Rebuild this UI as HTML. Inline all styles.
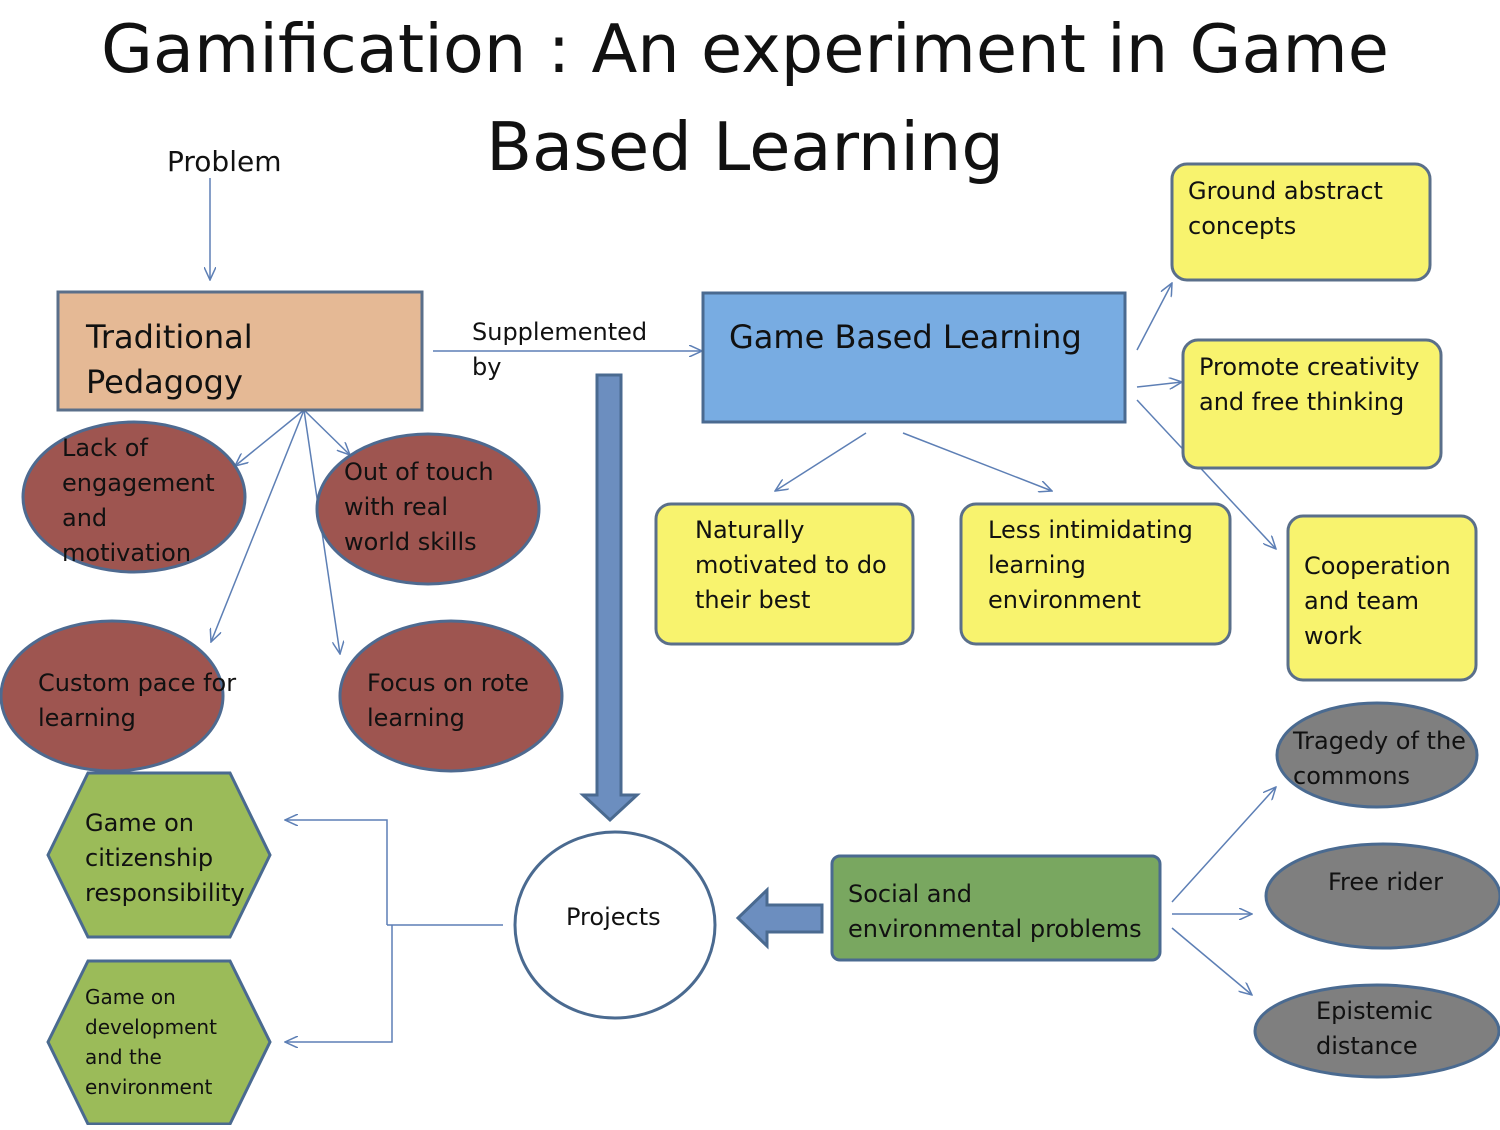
<!DOCTYPE html>
<html><head><meta charset="utf-8"><style>
body{margin:0;background:#fff}
svg text{font-family:"DejaVu Sans","Liberation Sans",sans-serif;fill:#111}
</style></head><body>
<svg width="1500" height="1125" viewBox="0 0 1500 1125" xmlns="http://www.w3.org/2000/svg">
<defs><marker id="a" markerWidth="14" markerHeight="12" refX="13" refY="6" orient="auto" markerUnits="userSpaceOnUse"><path d="M0,0 L13,6 L0,12" fill="none" stroke="#5d7fb5" stroke-width="1.5"/></marker></defs>
<text x="745" y="72" font-size="67" text-anchor="middle">Gamification : An experiment in Game</text>
<text x="745" y="170" font-size="67" text-anchor="middle">Based Learning</text>
<text x="167" y="171" font-size="28">Problem</text>
<g stroke="#5d7fb5" stroke-width="1.5" fill="none" marker-end="url(#a)">
<line x1="210" y1="178" x2="210" y2="280"/>
<line x1="433" y1="351" x2="702" y2="351"/>
<line x1="304" y1="410" x2="235" y2="466"/>
<line x1="304" y1="410" x2="350" y2="455"/>
<line x1="304" y1="410" x2="211" y2="642"/>
<line x1="304" y1="410" x2="340" y2="654"/>
<line x1="1137" y1="350" x2="1172" y2="283"/>
<line x1="1137" y1="387" x2="1182" y2="382"/>
<line x1="1137" y1="400" x2="1276" y2="549"/>
<line x1="866" y1="433" x2="775" y2="491"/>
<line x1="903" y1="433" x2="1052" y2="491"/>
<line x1="1172" y1="902" x2="1276" y2="787"/>
<line x1="1172" y1="914" x2="1252" y2="914"/>
<line x1="1172" y1="928" x2="1252" y2="995"/>
<polyline points="387,925 387,820 285,820"/>
<polyline points="392,925 392,1042 285,1042"/>
</g>
<line x1="503" y1="925" x2="387" y2="925" stroke="#5d7fb5" stroke-width="1.5"/>
<rect x="58" y="292" width="364" height="118" fill="#e5b995" stroke="#5a6f8a" stroke-width="3"/>
<text x="86" y="348" font-size="32">Traditional</text><text x="86" y="393" font-size="32">Pedagogy</text>
<text x="472" y="340" font-size="24">Supplemented</text><text x="472" y="375" font-size="24">by</text>
<rect x="703" y="293" width="422" height="129" fill="#78ace2" stroke="#4a6a90" stroke-width="3"/>
<text x="729" y="348" font-size="32">Game Based Learning</text>
<g fill="#f8f36e" stroke="#5a6f8a" stroke-width="3">
<rect x="1172" y="164" width="258" height="116" rx="15"/>
<rect x="1183" y="340" width="258" height="128" rx="15"/>
<rect x="1288" y="516" width="188" height="164" rx="15"/>
<rect x="656" y="504" width="257" height="140" rx="15"/>
<rect x="961" y="504" width="269" height="140" rx="15"/>
</g>
<g font-size="24">
<text x="1188" y="199">Ground abstract</text><text x="1188" y="234">concepts</text>
<text x="1199" y="375">Promote creativity</text><text x="1199" y="410">and free thinking</text>
<text x="1304" y="574">Cooperation</text><text x="1304" y="609">and team</text><text x="1304" y="644">work</text>
<text x="695" y="538">Naturally</text><text x="695" y="573">motivated to do</text><text x="695" y="608">their best</text>
<text x="988" y="538">Less intimidating</text><text x="988" y="573">learning</text><text x="988" y="608">environment</text>
</g>
<g fill="#9e5550" stroke="#4e6a90" stroke-width="3">
<ellipse cx="134" cy="497" rx="111" ry="75"/>
<ellipse cx="428" cy="509" rx="111" ry="75"/>
<ellipse cx="112" cy="696" rx="111" ry="75"/>
<ellipse cx="451" cy="696" rx="111" ry="75"/>
</g>
<g font-size="24">
<text x="62" y="456">Lack of</text><text x="62" y="491">engagement</text><text x="62" y="526">and</text><text x="62" y="561">motivation</text>
<text x="344" y="480">Out of touch</text><text x="344" y="515">with real</text><text x="344" y="550">world skills</text>
<text x="38" y="691">Custom pace for</text><text x="38" y="726">learning</text>
<text x="367" y="691">Focus on rote</text><text x="367" y="726">learning</text>
</g>
<path d="M597,375 H621 V795 H637 L610,820 L583,795 H597 Z" fill="#6c8ebf" stroke="#4a6a90" stroke-width="3"/>
<ellipse cx="615" cy="925" rx="100" ry="93" fill="#fff" stroke="#4a6a90" stroke-width="3"/>
<text x="566" y="925" font-size="24">Projects</text>
<g fill="#9bbb59" stroke="#4a6a90" stroke-width="3">
<polygon points="48,855 88,773 230,773 270,855 230,937 88,937"/>
<polygon points="48,1042 88,961 230,961 270,1042 230,1124 88,1124"/>
</g>
<text x="85" y="831" font-size="24">Game on</text><text x="85" y="866" font-size="24">citizenship</text><text x="85" y="901" font-size="24">responsibility</text>
<g font-size="20"><text x="85" y="1004">Game on</text><text x="85" y="1034">development</text><text x="85" y="1064">and the</text><text x="85" y="1094">environment</text></g>
<path d="M822,905 H767 V890 L738,918 L767,946 V932 H822 Z" fill="#6c8ebf" stroke="#4a6a90" stroke-width="3"/>
<rect x="832" y="856" width="328" height="104" rx="8" fill="#79a760" stroke="#4a6a90" stroke-width="3"/>
<text x="848" y="902" font-size="24">Social and</text><text x="848" y="937" font-size="24">environmental problems</text>
<g fill="#7f7f7f" stroke="#4a6a90" stroke-width="3">
<ellipse cx="1377" cy="755" rx="100" ry="52"/>
<ellipse cx="1383" cy="896" rx="117" ry="52"/>
<ellipse cx="1377" cy="1031" rx="122" ry="46"/>
</g>
<g font-size="24">
<text x="1293" y="749">Tragedy of the</text><text x="1293" y="784">commons</text>
<text x="1328" y="890">Free rider</text>
<text x="1316" y="1019">Epistemic</text><text x="1316" y="1054">distance</text>
</g>
</svg>
</body></html>
